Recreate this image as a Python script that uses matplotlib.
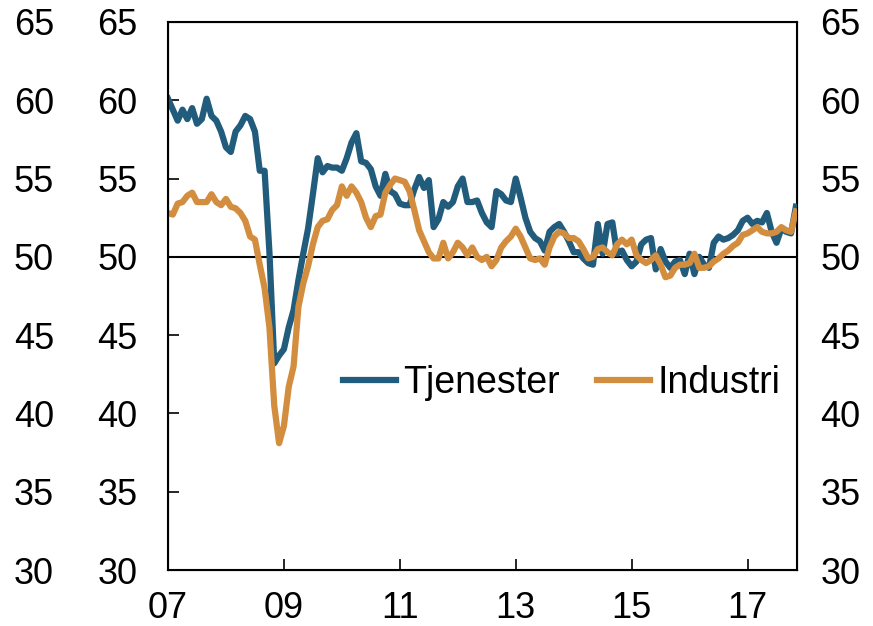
import numpy as np
import matplotlib
matplotlib.use("Agg")
import matplotlib.pyplot as plt

plt.rcParams['font.family'] = ['Liberation Sans', 'DejaVu Sans']

# monthly PMI, Jan 2007 - Nov 2017
tjenester = [
    60.1, 59.4, 58.7, 59.4, 58.8, 59.5, 58.5, 58.8, 60.1, 59.0,
    58.7, 58.0, 57.0, 56.7, 58.0, 58.4, 59.0, 58.8, 58.0, 55.5,
    55.5, 50.3, 43.2, 43.7, 44.1, 45.5, 46.6, 48.5, 50.2, 51.8,
    54.0, 56.3, 55.4, 55.8, 55.7, 55.7, 55.5, 56.3, 57.3, 57.9,
    56.1, 56.0, 55.6, 54.5, 53.9, 55.3, 54.2, 54.0, 53.4, 53.3,
    53.3, 54.3, 55.1, 54.4, 54.9, 51.9, 52.4, 53.5, 53.2, 53.5,
    54.5, 55.0, 53.5, 53.5, 53.6, 52.8, 52.2, 51.9, 54.2, 54.0,
    53.6, 53.5, 55.0, 53.8, 52.5, 51.6, 51.2, 51.0, 50.4, 51.6,
    51.9, 52.1, 51.6, 51.0, 50.3, 50.3, 49.9, 49.6, 49.5, 52.1,
    50.2, 52.1, 52.2, 50.2, 50.4, 49.8, 49.4, 49.7, 50.8, 51.1,
    51.2, 49.2, 50.5, 49.7, 49.3, 49.7, 49.8, 48.9, 50.2, 48.9,
    50.0, 49.5, 49.3, 50.9, 51.3, 51.1, 51.2, 51.4, 51.7, 52.3,
    52.5, 52.1, 52.3, 52.2, 52.8, 51.6, 50.9, 51.8, 51.6, 51.5,
    53.2,
]
industri = [
    52.8, 52.7, 53.4, 53.5, 53.9, 54.1, 53.5, 53.5, 53.5, 54.0,
    53.5, 53.3, 53.7, 53.2, 53.1, 52.8, 52.3, 51.3, 51.1, 49.5,
    48.0, 45.5, 40.5, 38.1, 39.2, 41.7, 43.0, 46.8, 48.3, 49.4,
    50.8, 51.9, 52.3, 52.4, 53.0, 53.3, 54.5, 53.9, 54.5, 54.1,
    53.5, 52.5, 51.9, 52.6, 52.7, 54.1, 54.6, 55.0, 54.9, 54.8,
    54.2, 53.0, 51.7, 51.0, 50.3, 49.9, 49.9, 50.9, 49.9, 50.3,
    50.9, 50.6, 50.1, 50.6, 50.0, 49.8, 50.0, 49.4, 49.8, 50.6,
    51.0, 51.3, 51.8, 51.3, 50.6, 49.9, 49.8, 49.9, 49.5, 50.6,
    51.3, 51.6, 51.5, 51.2, 51.2, 51.0, 50.5, 49.9, 50.0, 50.5,
    50.6, 50.3, 50.1, 50.8, 51.1, 50.8, 51.1, 50.1, 49.8, 49.6,
    49.8, 50.1, 49.5, 48.7, 48.8, 49.3, 49.5, 49.5, 49.6, 50.2,
    49.3, 49.3, 49.4, 49.7, 49.9, 50.2, 50.4, 50.7, 50.9, 51.4,
    51.5, 51.7, 51.9, 51.6, 51.5, 51.5, 51.6, 51.9, 51.7, 51.6,
    52.9,
]
year_ticks = [2007, 2009, 2011, 2013, 2015, 2017]
year_labels = ['07', '09', '11', '13', '15', '17']
y_ticks = [30, 35, 40, 45, 50, 55, 60, 65]

dates = 2007 + np.arange(len(tjenester)) / 12.0

blue = '#215C7C'
orange = '#D38D3F'
fs = 26

fig = plt.figure(figsize=(8.73, 6.26), dpi=100)
ax = fig.add_axes([168/873, 1-570/626, 629/873, 548/626])

ax.axhline(50, color='black', lw=1.5, zorder=1)
ax.plot(dates, tjenester, color=blue, lw=4.5, label='Tjenester', zorder=3)
ax.plot(dates, industri, color=orange, lw=4.5, label='Industri', zorder=4)

ax.set_xlim(2007, dates[-1] + 0.02)
ax.set_ylim(30, 65)
ax.set_xticks(year_ticks)
ax.set_xticklabels(year_labels)
ax.set_yticks(y_ticks)

ax.tick_params(axis='x', direction='in', length=8, width=1.2, pad=15, labelsize=fs)
ax.tick_params(axis='y', direction='in', length=8, width=1.2, pad=22, labelsize=fs)
for s in ax.spines.values():
    s.set_linewidth(1.5)

# right labels
axr = ax.twinx()
axr.set_ylim(30, 65)
axr.set_yticks(y_ticks)
axr.tick_params(axis='y', direction='in', length=0, pad=17, labelsize=fs)

# outer left labels
sec = ax.secondary_yaxis('left')
sec.set_yticks(y_ticks)
sec.tick_params(length=0, pad=82, labelsize=fs)
sec.spines['left'].set_visible(False)

leg = ax.legend(loc='center', bbox_to_anchor=(0.626, 0.341), ncol=2, frameon=False,
                fontsize=27, handlelength=1.4, handletextpad=0.2, columnspacing=1.0)

fig.savefig('out.png', dpi=100)
